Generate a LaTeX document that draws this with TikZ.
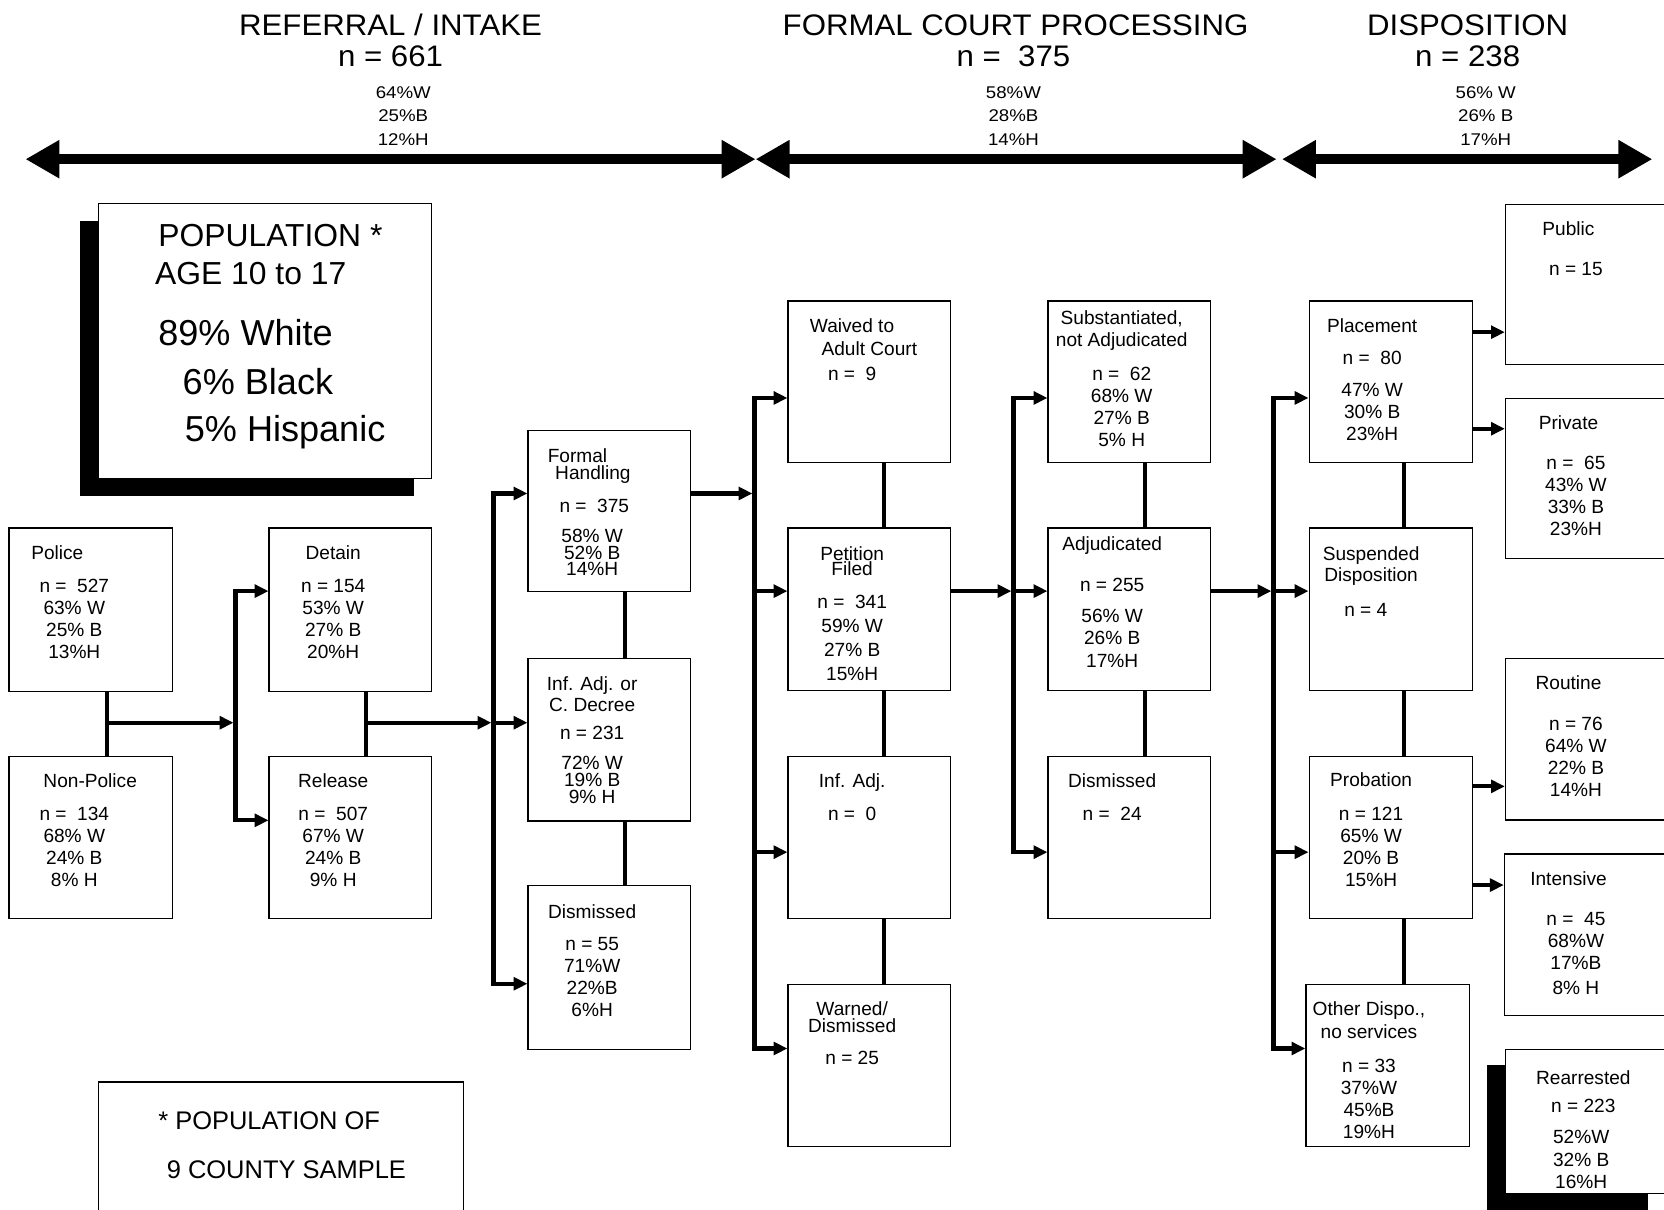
\documentclass[tikz,border=0pt]{standalone}
\usepackage{fontspec}
\setmainfont{Liberation Sans}
\newfontfamily\hdfont{Liberation Sans}[FakeStretch=1.05]
\newfontfamily\pctfont{Liberation Sans}[FakeStretch=1.1]
\usetikzlibrary{arrows.meta}
\newcommand\bxf[1]{\fontsize{18}{#1}\selectfont}
\tikzset{
  box/.style={draw, line width=1.2pt, fill=white, inner sep=0, anchor=north west,
              minimum width=153, minimum height=153},
  ttl/.style={anchor=base, inner sep=0, font=\bxf{20.7}},
  sts/.style={anchor=north, inner sep=0, align=center, font=\bxf{#1}},
  sts/.default=20.7,
  lft/.style={anchor=north west, inner sep=0, align=left, font=\bxf{#1}},
  conn/.style={line width=4pt},
  arr/.style={line width=4pt, -{Triangle[length=13pt,width=12pt]}},
  bigarr/.style={line width=10pt,
     {Triangle[length=32pt,width=34pt]}-{Triangle[length=32pt,width=34pt]}},
  hd/.style={anchor=base, inner sep=0, font=\hdfont\fontsize{28}{30}\selectfont},
  pct/.style={anchor=north, inner sep=0, align=center, font=\pctfont\fontsize{16}{22.3}\selectfont},
  big/.style={anchor=base west, inner sep=0, font=\fontsize{#1}{#1}\selectfont},
}
\begin{document}
\begin{tikzpicture}[x=1pt, y=-1pt]
\useasboundingbox (0,0) rectangle (1568,1140);
\fill[white] (0,0) rectangle (1568,1140);
\clip (0,0) rectangle (1568,1140);

% ---------- stage headers ----------
\node[hd] (h1) at (368,33) {REFERRAL / INTAKE};
\node[hd] (h1n) at (368,63) {n = 661};
\node[pct] (h1p) at (380,81) {64\%W\\25\%B\\12\%H};
\node[hd] (h2) at (957,33) {FORMAL COURT PROCESSING};
\node[hd] (h2n) at (955,63) {n =\ \ 375};
\node[pct] (h2p) at (955,81) {58\%W\\28\%B\\14\%H};
\node[hd] (h3) at (1383,33) {DISPOSITION};
\node[hd] (h3n) at (1383,63) {n = 238};
\node[pct] (h3p) at (1400,81) {56\% W\\26\% B\\17\%H};

\coordinate (a0) at (24,150);
\coordinate (a1) at (712,150);
\coordinate (a2) at (1203,150);
\coordinate (a3) at (1208,150);
\coordinate (a4) at (1557,150);
\draw[bigarr] (a0) -- (a1);
\draw[bigarr] (a1) -- (a2);
\draw[bigarr] (a3) -- (a4);

% ---------- population box ----------
\fill (75,208) rectangle (390,467);
\node[box, minimum width=314, minimum height=259] (pop) at (92,191) {};
\node[big=30] (pop1) at (149,232.5) {POPULATION *};
\node[big=30] (pop2) at (146,268) {AGE 10 to 17};
\node[big=34] (pop3) at (149,326) {89\% White};
\node[big=34] (pop4) at (172,372) {6\% Black};
\node[big=34] (pop5) at (174,416) {5\% Hispanic};

% ---------- footnote box ----------
\node[box, minimum width=344, minimum height=140] (foot) at (92,1019) {};
\node[big=24] (foot1) at (149,1064.5) {* POPULATION OF};
\node[big=24] (foot2) at (157,1110.5) {9 COUNTY SAMPLE};

% ---------- referral ----------
\node[box, minimum width=154, minimum height=154] (police) at (8,497) {};
\node[ttl] (policeT) at (54,527.5) {Police};
\node[sts] (policeS) at (70,545.5) {n =\ \ 527\\63\% W\\25\% B\\13\%H};

\node[box, minimum width=154] (nonpolice) at (8,712) {};
\node[ttl] (nonpoliceT) at (85,742.5) {Non-Police};
\node[sts] (nonpoliceS) at (70,760.5) {n =\ \ 134\\68\% W\\24\% B\\8\% H};

\node[box, minimum height=154] (detain) at (253,497) {};
\node[ttl] (detainT) at (314,527.5) {Detain};
\node[sts] (detainS) at (314,545.5) {n = 154\\53\% W\\27\% B\\20\%H};

\node[box] (release) at (253,712) {};
\node[ttl] (releaseT) at (314,742.5) {Release};
\node[sts] (releaseS) at (314,760.5) {n =\ \ 507\\67\% W\\24\% B\\9\% H};

% ---------- intake decision ----------
\node[box, minimum height=152] (formal) at (497,405) {};
\node[lft=16] (formalT) at (516,422.5) {Formal\\\hspace*{7pt}Handling};
\node[ttl] (formalN) at (560,482.5) {n =\ \ 375};
\node[sts=15.5] (formalS) at (558,498.5) {58\% W\\52\% B\\14\%H};

\node[box] (infadj1) at (497,620) {};
\node[sts=20] (infadj1T) at (558,637.5) {Inf. Adj. or\\C. Decree};
\node[ttl] (infadj1N) at (558,696.5) {n = 231};
\node[sts=16] (infadj1S) at (558,712.5) {72\% W\\19\% B\\9\% H};

\node[box, minimum height=154] (dism1) at (497,834) {};
\node[ttl] (dism1T) at (558,865.5) {Dismissed};
\node[sts] (dism1S) at (558,883.5) {n = 55\\71\%W\\22\%B\\6\%H};

% ---------- court ----------
\node[box, minimum height=152] (waived) at (742,283) {};
\node[lft=21] (waivedT) at (763,300.5) {Waived to\\\hspace*{11pt}Adult Court};
\node[ttl] (waivedN) at (803,358.5) {n =\ \ 9};

\node[box] (petition) at (742,497) {};
\node[sts=15] (petitionT) at (803,514.5) {Petition\\Filed};
\node[sts=22.7] (petitionS) at (803,560.5) {n =\ \ 341\\59\% W\\27\% B\\15\%H};

\node[box] (infadj2) at (742,712) {};
\node[ttl] (infadj2T) at (803,742.5) {Inf. Adj.};
\node[ttl] (infadj2N) at (803,773.5) {n =\ \ 0};

\node[box] (warned) at (742,927) {};
\node[sts=16] (warnedT) at (803,943.5) {Warned/\\Dismissed};
\node[ttl] (warnedN) at (803,1003.5) {n = 25};

% ---------- adjudication ----------
\node[box, minimum height=152] (subst) at (987,283) {};
\node[sts=21] (substT) at (1057,292.5) {Substantiated,\\not Adjudicated};
\node[sts] (substS) at (1057,345.5) {n =\ \ 62\\68\% W\\27\% B\\5\% H};

\node[box] (adjud) at (987,497) {};
\node[ttl] (adjudT) at (1048,518.5) {Adjudicated};
\node[ttl] (adjudN) at (1048,557.5) {n = 255};
\node[sts=21.5] (adjudS) at (1048,573.5) {56\% W\\26\% B\\17\%H};

\node[box] (dism2) at (987,712) {};
\node[ttl] (dism2T) at (1048,742.5) {Dismissed};
\node[ttl] (dism2N) at (1048,773.5) {n =\ \ 24};

% ---------- disposition ----------
\node[box, minimum width=154, minimum height=152] (placement) at (1233,283) {};
\node[ttl] (placementT) at (1293,313.5) {Placement};
\node[ttl] (placementN) at (1293,343.5) {n =\ \ 80};
\node[sts=21] (placementS) at (1293,360.5) {47\% W\\30\% B\\23\%H};

\node[box, minimum width=154] (suspended) at (1233,497) {};
\node[sts=20] (suspendedT) at (1292,514.5) {Suspended\\Disposition};
\node[ttl] (suspendedN) at (1287,580.5) {n = 4};

\node[box, minimum width=154] (probation) at (1233,712) {};
\node[ttl] (probationT) at (1292,741.5) {Probation};
\node[sts] (probationS) at (1292,760.5) {n = 121\\65\% W\\20\% B\\15\%H};

\node[box, minimum width=154] (other) at (1230,927) {};
\node[sts=22] (otherT) at (1290,943.5) {Other Dispo.,\\no services};
\node[sts=21] (otherS) at (1290,997.5) {n = 33\\37\%W\\45\%B\\19\%H};

% ---------- outcomes ----------
\node[box, minimum width=170, minimum height=151] (public) at (1418,192) {};
\node[ttl] (publicT) at (1478,221.5) {Public};
\node[ttl] (publicN) at (1485,259.5) {n = 15};

\node[box, minimum width=170, minimum height=151] (private) at (1418,375) {};
\node[ttl] (privateT) at (1478,404.5) {Private};
\node[sts] (privateS) at (1485,429.5) {n =\ \ 65\\43\% W\\33\% B\\23\%H};

\node[box, minimum width=170, minimum height=152] (routine) at (1418,620) {};
\node[ttl] (routineT) at (1478,649.5) {Routine};
\node[sts] (routineS) at (1485,675.5) {n = 76\\64\% W\\22\% B\\14\%H};

\node[box, minimum width=171, minimum height=152] (intensive) at (1417,804) {};
\node[ttl] (intensiveT) at (1478,834.5) {Intensive};
\node[sts] (intensiveS) at (1485,859.5) {n =\ \ 45\\68\%W\\17\%B\\[3pt]8\% H};

\fill (1401,1004) rectangle (1553,1145);
\node[box, minimum width=170, minimum height=136] (rearrest) at (1418,988) {};
\node[ttl] (rearrestT) at (1492,1021.5) {Rearrested};
\node[ttl] (rearrestN) at (1492,1048.5) {n = 223};
\node[sts=21.5] (rearrestS) at (1490,1064.5) {52\%W\\32\% B\\16\%H};

% ---------- referral connectors ----------
\coordinate (j1) at (101,681);
\coordinate (b1t) at (222,557);
\coordinate (b1b) at (222,773);
\draw[conn] (police.south -| j1) -- (nonpolice.north -| j1);
\draw[arr] (j1) -- ([xshift=-2pt]j1 -| b1t);
\draw[arr] (b1b) -- (b1t) -- (b1t -| detain.west);
\draw[arr] (b1t) -- (b1b) -- (b1b -| release.west);

\coordinate (j2) at (345,681);
\coordinate (b2t) at (465,465);
\coordinate (b2m) at (465,681);
\coordinate (b2b) at (465,927);
\draw[conn] (detain.south -| j2) -- (release.north -| j2);
\draw[arr] (j2) -- ([xshift=-2pt]b2m);
\draw[arr] (b2b) -- (b2t) -- (b2t -| formal.west);
\draw[arr] (b2t) -- (b2b) -- (b2b -| dism1.west);
\draw[arr] (b2m) -- (b2m -| infadj1.west);

\coordinate (c1) at (589,0);
\draw[conn] (formal.south -| c1) -- (infadj1.north -| c1);
\draw[conn] (infadj1.south -| c1) -- (dism1.north -| c1);

% ---------- court connectors ----------
\coordinate (b3t) at (711,375);
\coordinate (b3a) at (711,465);
\coordinate (b3p) at (711,557);
\coordinate (b3i) at (711,803);
\coordinate (b3b) at (711,988);
\draw[arr] (b3a -| formal.east) -- ([xshift=-2pt]b3a);
\draw[arr] (b3b) -- (b3t) -- (b3t -| waived.west);
\draw[arr] (b3t) -- (b3b) -- (b3b -| warned.west);
\draw[arr] (b3p) -- (b3p -| petition.west);
\draw[arr] (b3i) -- (b3i -| infadj2.west);

\coordinate (c2) at (833,0);
\draw[conn] (waived.south -| c2) -- (petition.north -| c2);
\draw[conn] (petition.south -| c2) -- (infadj2.north -| c2);
\draw[conn] (infadj2.south -| c2) -- (warned.north -| c2);

% ---------- adjudication connectors ----------
\coordinate (b4t) at (955,375);
\coordinate (b4m) at (955,557);
\coordinate (b4b) at (955,803);
\draw[arr] (b4m -| petition.east) -- ([xshift=-2pt]b4m);
\draw[arr] (b4b) -- (b4t) -- (b4t -| subst.west);
\draw[arr] (b4t) -- (b4b) -- (b4b -| dism2.west);
\draw[arr] (b4m) -- (b4m -| adjud.west);

\coordinate (c3) at (1079,0);
\draw[conn] (subst.south -| c3) -- (adjud.north -| c3);
\draw[conn] (adjud.south -| c3) -- (dism2.north -| c3);

% ---------- disposition connectors ----------
\coordinate (b5t) at (1200,375);
\coordinate (b5m) at (1200,557);
\coordinate (b5i) at (1200,803);
\coordinate (b5b) at (1200,988);
\draw[arr] (b5m -| adjud.east) -- ([xshift=-2pt]b5m);
\draw[arr] (b5b) -- (b5t) -- (b5t -| placement.west);
\draw[arr] (b5t) -- (b5b) -- (b5b -| other.west);
\draw[arr] (b5m) -- (b5m -| suspended.west);
\draw[arr] (b5i) -- (b5i -| probation.west);

\coordinate (c4) at (1323,0);
\draw[conn] (placement.south -| c4) -- (suspended.north -| c4);
\draw[conn] (suspended.south -| c4) -- (probation.north -| c4);
\draw[conn] (probation.south -| c4) -- (other.north -| c4);

% ---------- outcome arrows ----------
\coordinate (r1) at (1400,313);
\coordinate (r2) at (1400,404);
\coordinate (r3) at (1400,741);
\coordinate (r4) at (1400,834);
\draw[arr] (r1 -| placement.east) -- (r1 -| public.west);
\draw[arr] (r2 -| placement.east) -- (r2 -| private.west);
\draw[arr] (r3 -| probation.east) -- (r3 -| routine.west);
\draw[arr] (r4 -| probation.east) -- (r4 -| intensive.west);
\end{tikzpicture}
\end{document}
